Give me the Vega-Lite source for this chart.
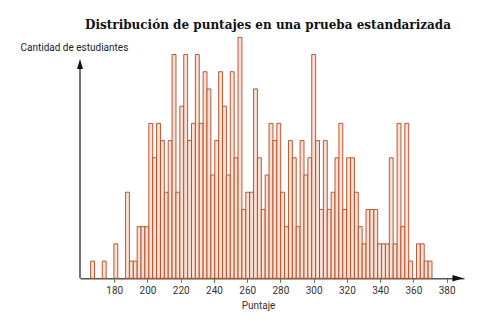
{
  "$schema": "https://vega.github.io/schema/vega-lite/v6.json",
  "width": 384,
  "height": 241,
  "autosize": "none",
  "padding": {"left": 80, "top": 37.3, "right": 14, "bottom": 52.7},
  "background": "white",
  "config": {"view": {"stroke": null}, "axis": {"labelOverlap": false, "labelBound": false, "labelFlush": false}},
  "title": {
    "text": "Distribución de puntajes en una prueba estandarizada",
    "font": "DejaVu Serif",
    "fontWeight": "bold",
    "fontSize": 12,
    "color": "#111111",
    "anchor": "middle",
    "dx": -4,
    "offset": 5
  },
  "data": {
    "values": [
      {"x0": 165.80, "x1": 168.13, "n": 1},
      {"x0": 172.80, "x1": 175.14, "n": 1},
      {"x0": 179.80, "x1": 182.14, "n": 2},
      {"x0": 186.81, "x1": 189.14, "n": 5},
      {"x0": 189.14, "x1": 191.47, "n": 1},
      {"x0": 191.47, "x1": 193.81, "n": 1},
      {"x0": 193.81, "x1": 196.14, "n": 3},
      {"x0": 196.14, "x1": 198.48, "n": 3},
      {"x0": 198.48, "x1": 200.81, "n": 3},
      {"x0": 200.81, "x1": 203.14, "n": 9},
      {"x0": 203.14, "x1": 205.48, "n": 7},
      {"x0": 205.48, "x1": 207.81, "n": 9},
      {"x0": 207.81, "x1": 210.15, "n": 8},
      {"x0": 210.15, "x1": 212.48, "n": 5},
      {"x0": 212.48, "x1": 214.81, "n": 8},
      {"x0": 214.81, "x1": 217.15, "n": 13},
      {"x0": 217.15, "x1": 219.48, "n": 5},
      {"x0": 219.48, "x1": 221.82, "n": 10},
      {"x0": 221.82, "x1": 224.15, "n": 13},
      {"x0": 224.15, "x1": 226.48, "n": 8},
      {"x0": 226.48, "x1": 228.82, "n": 9},
      {"x0": 228.82, "x1": 231.15, "n": 13},
      {"x0": 231.15, "x1": 233.49, "n": 9},
      {"x0": 233.49, "x1": 235.82, "n": 12},
      {"x0": 235.82, "x1": 238.15, "n": 11},
      {"x0": 238.15, "x1": 240.49, "n": 6},
      {"x0": 240.49, "x1": 242.82, "n": 8},
      {"x0": 242.82, "x1": 245.16, "n": 12},
      {"x0": 245.16, "x1": 247.49, "n": 10},
      {"x0": 247.49, "x1": 249.82, "n": 6},
      {"x0": 249.82, "x1": 252.16, "n": 12},
      {"x0": 252.16, "x1": 254.49, "n": 7},
      {"x0": 254.49, "x1": 256.83, "n": 14},
      {"x0": 256.83, "x1": 259.16, "n": 4},
      {"x0": 259.16, "x1": 261.49, "n": 5},
      {"x0": 261.49, "x1": 263.83, "n": 5},
      {"x0": 263.83, "x1": 266.16, "n": 11},
      {"x0": 266.16, "x1": 268.50, "n": 7},
      {"x0": 268.50, "x1": 270.83, "n": 4},
      {"x0": 270.83, "x1": 273.16, "n": 6},
      {"x0": 273.16, "x1": 275.50, "n": 9},
      {"x0": 275.50, "x1": 277.83, "n": 8},
      {"x0": 277.83, "x1": 280.17, "n": 9},
      {"x0": 280.17, "x1": 282.50, "n": 5},
      {"x0": 282.50, "x1": 284.83, "n": 3},
      {"x0": 284.83, "x1": 287.17, "n": 8},
      {"x0": 287.17, "x1": 289.50, "n": 7},
      {"x0": 289.50, "x1": 291.84, "n": 3},
      {"x0": 291.84, "x1": 294.17, "n": 8},
      {"x0": 294.17, "x1": 296.50, "n": 6},
      {"x0": 296.50, "x1": 298.84, "n": 7},
      {"x0": 298.84, "x1": 301.17, "n": 13},
      {"x0": 301.17, "x1": 303.51, "n": 8},
      {"x0": 303.51, "x1": 305.84, "n": 4},
      {"x0": 305.84, "x1": 308.17, "n": 8},
      {"x0": 308.17, "x1": 310.51, "n": 4},
      {"x0": 310.51, "x1": 312.84, "n": 5},
      {"x0": 312.84, "x1": 315.18, "n": 7},
      {"x0": 315.18, "x1": 317.51, "n": 9},
      {"x0": 317.51, "x1": 319.84, "n": 4},
      {"x0": 319.84, "x1": 322.18, "n": 7},
      {"x0": 322.18, "x1": 324.51, "n": 7},
      {"x0": 324.51, "x1": 326.85, "n": 5},
      {"x0": 326.85, "x1": 329.18, "n": 3},
      {"x0": 329.18, "x1": 331.51, "n": 2},
      {"x0": 331.51, "x1": 333.85, "n": 4},
      {"x0": 333.85, "x1": 336.18, "n": 4},
      {"x0": 336.18, "x1": 338.52, "n": 4},
      {"x0": 338.52, "x1": 340.85, "n": 2},
      {"x0": 340.85, "x1": 343.18, "n": 2},
      {"x0": 343.18, "x1": 345.52, "n": 2},
      {"x0": 345.52, "x1": 347.85, "n": 7},
      {"x0": 347.85, "x1": 350.19, "n": 2},
      {"x0": 350.19, "x1": 352.52, "n": 9},
      {"x0": 352.52, "x1": 354.85, "n": 3},
      {"x0": 354.85, "x1": 357.19, "n": 9},
      {"x0": 357.19, "x1": 359.52, "n": 1},
      {"x0": 361.86, "x1": 364.19, "n": 2},
      {"x0": 364.19, "x1": 366.52, "n": 2},
      {"x0": 366.52, "x1": 368.86, "n": 1},
      {"x0": 368.86, "x1": 371.19, "n": 1}
    ]
  },
  "layer": [
    {
      "mark": {"type": "rect", "fill": "#f7e0d5", "stroke": "#b5471f", "strokeWidth": 1, "strokeOpacity": 0.9},
      "encoding": {
        "x": {
          "field": "x0",
          "type": "quantitative",
          "scale": {"domain": [159.4, 390.45], "nice": false, "zero": false},
          "axis": {
            "title": "Puntaje",
            "values": [180, 200, 220, 240, 260, 280, 300, 320, 340, 360, 380],
            "tickCount": 30,
            "labelOverlap": false,
            "grid": false,
            "domainColor": "#555555",
            "domainWidth": 1.5,
            "tickColor": "#3c9a3c",
            "tickSize": 4,
            "labelFont": "Roboto",
            "labelFontSize": 10,
            "labelColor": "#333333",
            "labelPadding": 3,
            "titleFont": "Roboto",
            "titleFontSize": 10,
            "titleFontWeight": "normal",
            "titleColor": "#333333",
            "titleX": 178,
            "titleY": 27,
            "titleBaseline": "middle"
          }
        },
        "x2": {"field": "x1"},
        "y": {
          "field": "n",
          "type": "quantitative",
          "scale": {"domain": [0, 14], "nice": false},
          "axis": {
            "title": "Cantidad de estudiantes",
            "domain": false,
            "ticks": false,
            "labels": false,
            "grid": false,
            "titleAngle": 0,
            "titleX": -60,
            "titleY": 10,
            "titleAlign": "left",
            "titleBaseline": "middle",
            "titleFont": "Roboto",
            "titleFontSize": 10,
            "titleFontWeight": "normal",
            "titleColor": "#222222"
          }
        },
        "y2": {"datum": 0}
      }
    },
    {
      "data": {"values": [{}]},
      "mark": {"type": "rule", "color": "#444444", "strokeWidth": 1.5, "clip": false},
      "encoding": {
        "x": {"datum": 159.4},
        "y": {"datum": 0},
        "y2": {"datum": 12.3}
      }
    },
    {
      "data": {"values": [{}]},
      "mark": {"type": "point", "shape": "M-0.6,1L0,-1L0.6,1Z", "size": 100, "filled": true, "color": "#111111", "opacity": 1, "clip": false},
      "encoding": {
        "x": {"datum": 159.4},
        "y": {"datum": 12.45}
      }
    },
    {
      "data": {"values": [{}]},
      "mark": {"type": "point", "shape": "M-1,-0.6L1,0L-1,0.6Z", "size": 121, "filled": true, "color": "#111111", "opacity": 1, "clip": false},
      "encoding": {
        "x": {"datum": 386.8},
        "y": {"datum": 0}
      }
    }
  ]
}
